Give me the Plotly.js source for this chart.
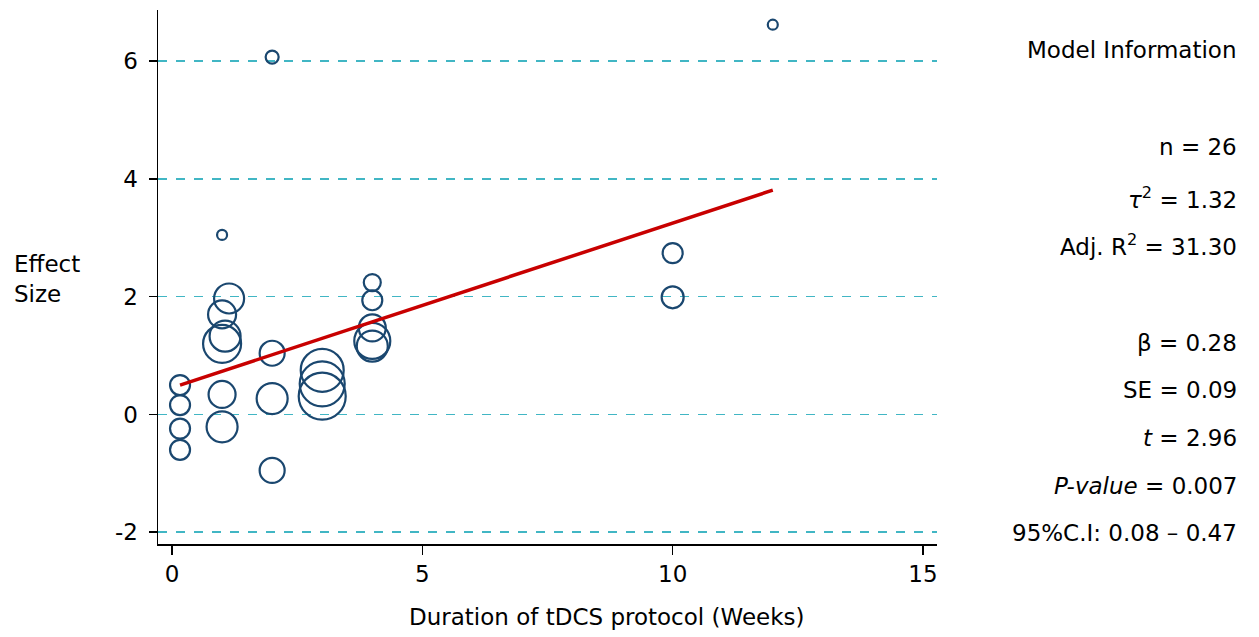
<!DOCTYPE html>
<html>
<head>
<meta charset="utf-8">
<script src="https://cdn.plot.ly/plotly-3.0.1.min.js"></script>
<style>html,body{margin:0;padding:0;background:#fff;}#chart{width:1259px;height:637px;}</style>
</head>
<body>
<div id="chart"></div>
<script>
// Study-level data: duration (weeks), effect size, study weight (bubble diameter)
var durationWeeks = [0.16,0.16,0.16,0.16, 1,1.14,1,1.06,1,1,1, 2,2,2,2, 3,3,3, 4,4,4,4,4, 10,10, 12];
var effectSize    = [0.5,0.16,-0.24,-0.6, 3.05,1.97,1.7,1.33,1.2,0.34,-0.21, 6.07,1.04,0.27,-0.95, 0.75,0.52,0.31, 2.24,1.94,1.47,1.25,1.16, 2.74,1.99, 6.62];
var studyWeight   = [20,20,20,20, 10,30,28,31,38,27,31, 13,25,31,25, 43,45,47, 17,20,27,36,31, 20,22, 10];

// Meta-regression fitted line
var fitX = [0.16, 12];
var fitY = [0.5, 3.81];

// Tick labels
var xTickVals = [0, 5, 10, 15];
var xTickText = ['0', '5', '10', '15'];
var yTickVals = [-2, 0, 2, 4, 6];
var yTickText = ['-2', '0', '2', '4', '6'];

// Model information panel
var modelInfo = [
  {text: 'Model Information', y: 50},
  {text: 'n = 26', y: 147},
  {text: '<i>τ</i><sup>2</sup> = 1.32', y: 198},
  {text: 'Adj. R<sup>2</sup> = 31.30', y: 245},
  {text: 'β = 0.28', y: 343},
  {text: 'SE = 0.09', y: 390},
  {text: '<i>t</i> = 2.96', y: 438},
  {text: '<i>P-value</i> = 0.007', y: 486},
  {text: '95%C.I: 0.08 – 0.47', y: 533}
];

var FONT = 'DejaVu Sans, Liberation Sans, Arial, sans-serif';
var W = 1259, H = 637;
var mL = 158, mR = 322, mT = 10, mB = 93;
var plotW = W - mL - mR, plotH = H - mT - mB;
function px2paperX(px){ return (px - mL) / plotW; }
function px2paperY(py){ return (H - mB - py) / plotH; }

var traces = [
  {
    type: 'scatter', mode: 'markers',
    x: durationWeeks, y: effectSize,
    marker: {
      size: studyWeight, sizemode: 'diameter', sizeref: 1, opacity: 1,
      symbol: 'circle', color: 'rgba(0,0,0,0)',
      line: {color: '#1a476f', width: 2.2}
    },
    hoverinfo: 'x+y', showlegend: false
  },
  {
    type: 'scatter', mode: 'lines',
    x: fitX, y: fitY,
    line: {color: '#c80000', width: 3.5},
    hoverinfo: 'skip', showlegend: false
  }
];

var annotations = modelInfo.map(function(m){
  return {
    xref: 'paper', yref: 'paper',
    x: px2paperX(1239), y: px2paperY(m.y),
    xanchor: 'right', yanchor: 'middle',
    text: m.text, showarrow: false, align: 'right',
    font: {family: FONT, size: 23, color: '#000'}
  };
});
annotations.push({
  xref: 'paper', yref: 'paper',
  x: px2paperX(12), y: px2paperY(279),
  xanchor: 'left', yanchor: 'middle', align: 'left',
  text: 'Effect<br>Size', showarrow: false,
  font: {family: FONT, size: 23, color: '#000'}
});
annotations.push({
  xref: 'paper', yref: 'paper',
  x: px2paperX(606), y: px2paperY(617),
  xanchor: 'center', yanchor: 'middle',
  text: 'Duration of tDCS protocol (Weeks)', showarrow: false,
  font: {family: FONT, size: 23, color: '#000'}
});

var layout = {
  width: W, height: H,
  margin: {l: mL, r: mR, t: mT, b: mB, pad: 0},
  paper_bgcolor: '#fff', plot_bgcolor: '#fff',
  font: {family: FONT, size: 23, color: '#000'},
  showlegend: false,
  xaxis: {
    range: [-0.28, 15.28], tickvals: xTickVals, ticktext: xTickText,
    showgrid: false, zeroline: false,
    showline: true, linecolor: '#000', linewidth: 1.5, mirror: false,
    ticks: 'outside', ticklen: 9, tickwidth: 1.5, tickcolor: '#000',
    tickfont: {family: FONT, size: 23, color: '#000'},
    automargin: false, fixedrange: true
  },
  yaxis: {
    range: [-2.2, 6.87], tickvals: yTickVals, ticktext: yTickText,
    showgrid: true, gridcolor: '#41b6c4', gridwidth: 1.5, griddash: 'dash',
    zeroline: false,
    showline: true, linecolor: '#000', linewidth: 1.5, mirror: false,
    ticks: 'outside', ticklen: 8, tickwidth: 1.5, tickcolor: '#000',
    ticklabelstandoff: 6,
    tickfont: {family: FONT, size: 23, color: '#000'},
    automargin: false, fixedrange: true
  },
  annotations: annotations
};

Plotly.newPlot('chart', traces, layout, {displayModeBar: false, staticPlot: true});
</script>
</body>
</html>
